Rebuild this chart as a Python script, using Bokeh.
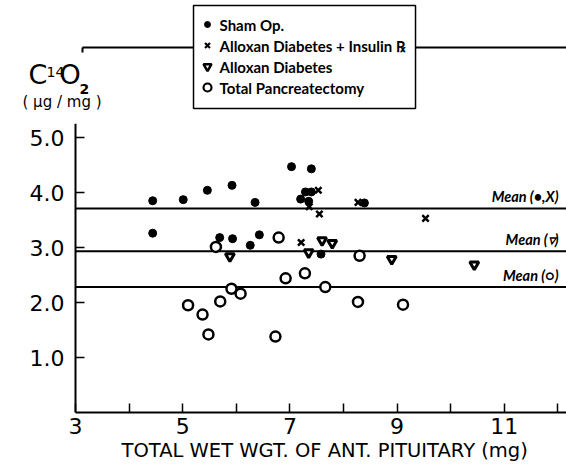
from bokeh.plotting import figure
from bokeh.models import Range1d, FixedTicker, Label, Title
from bokeh.core.properties import value
from bokeh.embed import file_html
from bokeh.resources import INLINE

# ---- data ----
sham_x = [4.44, 4.44, 5.01, 5.46, 5.92, 5.69, 5.93, 6.35, 6.26, 6.43, 7.03, 7.40, 7.20, 7.29, 7.40, 7.35, 7.58, 8.39]
sham_y = [3.85, 3.26, 3.87, 4.04, 4.13, 3.18, 3.16, 3.82, 3.04, 3.23, 4.47, 4.43, 3.88, 4.01, 4.01, 3.84, 2.88, 3.81]

ins_x = [7.21, 7.53, 7.55, 8.27, 9.53, 7.36]
ins_y = [3.09, 4.04, 3.61, 3.82, 3.53, 3.74]

allox_x = [5.88, 7.35, 7.60, 7.79, 8.90, 10.44]
allox_y = [2.84, 2.91, 3.13, 3.08, 2.79, 2.69]

panc_x = [5.62, 6.79, 6.92, 7.28, 5.91, 6.08, 5.70, 5.10, 5.37, 5.48, 6.73, 7.66, 8.30, 8.27, 9.11]
panc_y = [3.01, 3.18, 2.44, 2.53, 2.25, 2.16, 2.02, 1.95, 1.78, 1.42, 1.38, 2.28, 2.85, 2.01, 1.96]

mean_levels = [3.71, 2.93, 2.28]
mean_labels = ["Mean (\u2022,X)", "Mean (\u25BF)", "Mean (\u25CB)"]

series_names = ["Sham Op.", "Alloxan Diabetes + Insulin \u211E", "Alloxan Diabetes", "Total Pancreatectomy"]

x_ticks = [3, 4, 5, 6, 7, 8, 9, 10, 11, 12]
x_tick_labels = {3: "3", 5: "5", 7: "7", 9: "9", 11: "11"}
y_ticks = [1, 2, 3, 4, 5]
y_tick_labels = ["1.0", "2.0", "3.0", "4.0", "5.0"]

X0, X1 = 3, 12.16          # x-axis extent
Y_TOP = 5.25               # top of drawn y-axis line
PX = 53.6                  # px per x unit
PY = 55.0                  # px per y unit
X_PIX0 = 75                # pixel of x = 3
Y_PIX0 = 412               # pixel of y = 0


def dx(px):
    return X0 + (px - X_PIX0) / PX


def dy(py):
    return (Y_PIX0 - py) / PY


FONT = "DejaVu Sans"
NARROW = "Lato"

p = figure(width=566, height=470, output_backend="svg", toolbar_location=None,
           x_range=Range1d(dx(0), X1), y_range=Range1d(0, dy(0)),
           y_axis_location=None,
           min_border_left=0, min_border_right=0, min_border_top=0, min_border_bottom=58)
p.outline_line_color = None
p.grid.visible = False
p.background_fill_color = "white"
p.border_fill_color = "white"

# x axis
xa = p.xaxis[0]
xa.bounds = (X0, X1)
xa.ticker = FixedTicker(ticks=x_ticks)
xa.major_label_overrides = {k: x_tick_labels.get(k, "") for k in x_ticks}
xa.major_tick_in = 9
xa.major_tick_out = 0
xa.minor_tick_line_color = None
xa.axis_line_width = 2
xa.axis_line_color = "black"
xa.major_tick_line_color = "black"
xa.major_tick_line_width = 1.5
xa.major_label_text_font = FONT
xa.major_label_text_font_size = "22px"
xa.major_label_text_color = "black"
xa.major_label_standoff = 5

p.add_layout(Title(text="TOTAL WET WGT. OF ANT. PITUITARY (mg)", align="left", offset=121,
                   text_font=FONT, text_font_size="19.5px", text_font_style="normal",
                   text_color="black", standoff=0), "below")

# y axis (drawn by hand so that the title can sit above it)
p.segment(x0=[X0], y0=[0], x1=[X0], y1=[Y_TOP], line_color="black", line_width=2)
p.segment(x0=[X0] * len(y_ticks), y0=y_ticks, x1=[X0 + 9 / PX] * len(y_ticks), y1=y_ticks,
          line_color="black", line_width=1.5)
p.text(x=[X0 - 11 / PX] * len(y_ticks), y=y_ticks, text=y_tick_labels,
       text_align="right", text_baseline="middle",
       text_font=value(FONT), text_font_size="22px", text_color="black")

# mean lines
p.segment(x0=[X0] * 3, y0=mean_levels, x1=[X1] * 3, y1=mean_levels, line_color="black", line_width=2)
p.text(x=[X1 - 8 / PX] * 3, y=[m + 3 / PY for m in mean_levels], text=mean_labels,
       text_align="right", text_baseline="bottom",
       text_font=value(NARROW), text_font_size="14.5px", text_font_style="bold italic",
       text_color="black")

# top frame line with small tick
p.segment(x0=[dx(82), dx(82)], y0=[dy(47), dy(47)], x1=[X1, dx(82)], y1=[dy(47), dy(52)],
          line_color="black", line_width=2)

# series
p.scatter(sham_x, sham_y, marker="circle", size=8, fill_color="black", line_color="black")
p.scatter(ins_x, ins_y, marker="x", size=9, line_color="black", line_width=2.5)
p.scatter(allox_x, allox_y, marker="inverted_triangle", size=9, fill_color="white",
          line_color="black", line_width=3)
p.scatter(panc_x, panc_y, marker="circle", size=10, fill_color="white",
          line_color="black", line_width=2.5)

# legend box (drawn by hand)
p.quad(left=[dx(193)], right=[dx(415)], top=[dy(5)], bottom=[dy(108)],
       fill_color="white", line_color="black", line_width=1.5)
row_y = [dy(py) for py in (24, 45, 66, 87)]
mx = dx(207)
p.scatter([mx], [row_y[0]], marker="circle", size=6, fill_color="black", line_color="black")
p.scatter([mx], [row_y[1]], marker="x", size=7, line_color="black", line_width=2.2)
p.scatter([mx], [row_y[2]], marker="inverted_triangle", size=8, fill_color="white",
          line_color="black", line_width=2.5)
p.scatter([mx], [row_y[3]], marker="circle", size=8, fill_color="white",
          line_color="black", line_width=2.2)
p.text(x=[dx(219)] * 4, y=row_y, text=series_names, text_align="left", text_baseline="middle",
       text_font=value(NARROW), text_font_size="15px", text_font_style="bold", text_color="black")

# y-axis title
p.add_layout(Label(x=dx(28), y=dy(89), text="C", text_font=FONT, text_font_size="27px",
                   text_color="black"))
p.add_layout(Label(x=dx(46), y=dy(76), text="14", text_font=FONT, text_font_size="14px",
                   text_color="black"))
p.add_layout(Label(x=dx(59), y=dy(89), text="O", text_font=FONT, text_font_size="27px",
                   text_color="black"))
p.add_layout(Label(x=dx(79), y=dy(93), text="2", text_font=FONT, text_font_size="14px",
                   text_font_style="bold", text_color="black"))
p.add_layout(Label(x=dx(22), y=dy(110), text="( \u00B5g / mg )", text_font=FONT,
                   text_font_size="15px", text_color="black"))

open("out.html", "w").write(file_html(p, INLINE))
